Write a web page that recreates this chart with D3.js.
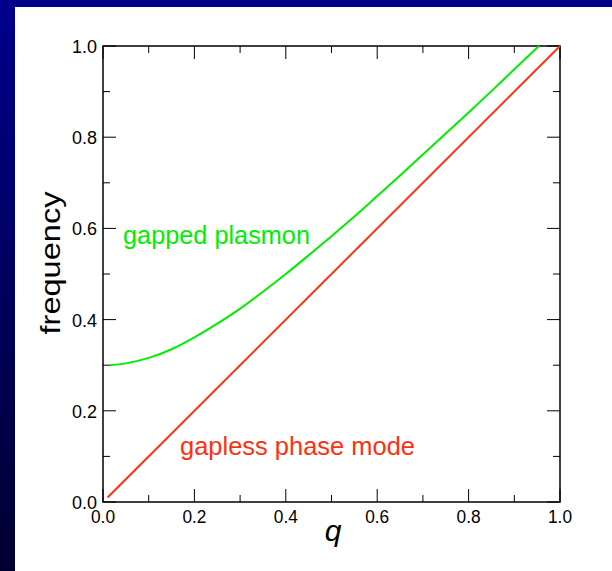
<!DOCTYPE html>
<html><head><meta charset="utf-8">
<script src="https://cdn.jsdelivr.net/npm/d3@7"></script>
<style>html,body{margin:0;padding:0;overflow:hidden;}</style>
</head><body>
<script>
// Data
const qGapped = [0.015,0.05,0.1,0.15,0.2,0.25,0.3,0.35,0.4,0.45,0.5,0.55,0.6,0.65,0.7,0.75,0.8,0.85,0.9,0.954];
const fGapped = [0.300,0.304,0.316,0.335,0.361,0.391,0.424,0.461,0.500,0.541,0.583,0.626,0.671,0.716,0.762,0.808,0.854,0.901,0.949,1.000];
const qGapless = [0.01,1.0];
const fGapless = [0.01,1.0];
const xTicks = [0,0.2,0.4,0.6,0.8,1.0];
const yTicks = [0,0.2,0.4,0.6,0.8,1.0];
const minorTicks = [0.1,0.3,0.5,0.7,0.9];
const labels = ["gapped plasmon","gapless phase mode"];

const W=612,H=571;
const svg=d3.select("body").append("svg").attr("width",W).attr("height",H);
const defs=svg.append("defs");
const g=defs.append("linearGradient").attr("id","bg").attr("x1",0).attr("y1",0).attr("x2",0).attr("y2",1);
g.append("stop").attr("offset","0%").attr("stop-color","#00008c");
g.append("stop").attr("offset","100%").attr("stop-color","#000030");
svg.append("rect").attr("width",W).attr("height",H).attr("fill","url(#bg)");
svg.append("rect").attr("x",15).attr("y",7).attr("width",W-15).attr("height",H-7).attr("fill","#fff");

const L=103,R=560,T=46,B=502;
const x=d3.scaleLinear().domain([0,1]).range([L,R]);
const y=d3.scaleLinear().domain([0,1]).range([B,T]);

const font="'Liberation Sans', Arial, sans-serif";
const ax=svg.append("g").attr("stroke","#000").attr("stroke-width",1);
xTicks.forEach(v=>{
  ax.append("line").attr("x1",x(v)).attr("x2",x(v)).attr("y1",B).attr("y2",B-13);
  ax.append("line").attr("x1",x(v)).attr("x2",x(v)).attr("y1",T).attr("y2",T+13);
});
minorTicks.forEach(v=>{
  ax.append("line").attr("x1",x(v)).attr("x2",x(v)).attr("y1",B).attr("y2",B-7);
  ax.append("line").attr("x1",x(v)).attr("x2",x(v)).attr("y1",T).attr("y2",T+7);
  ax.append("line").attr("y1",y(v)).attr("y2",y(v)).attr("x1",L).attr("x2",L+7);
  ax.append("line").attr("y1",y(v)).attr("y2",y(v)).attr("x1",R).attr("x2",R-7);
});
yTicks.forEach(v=>{
  ax.append("line").attr("y1",y(v)).attr("y2",y(v)).attr("x1",L).attr("x2",L+13);
  ax.append("line").attr("y1",y(v)).attr("y2",y(v)).attr("x1",R).attr("x2",R-13);
});

const line=d3.line().x(d=>x(d[0])).y(d=>y(d[1])).curve(d3.curveMonotoneX);
svg.append("path").datum(qGapless.map((q,i)=>[q,fGapless[i]])).attr("d",line)
  .attr("fill","none").attr("stroke","#ff3010").attr("stroke-width",2);
svg.append("path").datum(qGapped.map((q,i)=>[q,fGapped[i]])).attr("d",line)
  .attr("fill","none").attr("stroke","#00ee00").attr("stroke-width",2);

ax.append("rect").attr("x",L).attr("y",T).attr("width",R-L).attr("height",B-T).attr("fill","none").attr("stroke-width",1.5);

svg.append("g").selectAll("text").data(xTicks).join("text")
  .attr("x",d=>x(d)-12).attr("y",B+21)
  .attr("font-family",font).attr("font-size","18px")
  .attr("textLength",24).attr("lengthAdjust","spacingAndGlyphs").text(d=>d.toFixed(1));
svg.append("g").selectAll("text").data(yTicks).join("text")
  .attr("x",L-31).attr("y",d=>y(d)+7)
  .attr("font-family",font).attr("font-size","18px")
  .attr("textLength",25).attr("lengthAdjust","spacingAndGlyphs").text(d=>d.toFixed(1));

svg.append("text").attr("x",333).attr("y",541).attr("text-anchor","middle")
  .attr("font-family",font).attr("font-style","italic").attr("font-size","30px").text("q");
svg.append("text").attr("transform","translate(60,263) rotate(-90)").attr("text-anchor","middle")
  .attr("font-family",font).attr("font-size","28px")
  .attr("textLength",143).attr("lengthAdjust","spacingAndGlyphs").text("frequency");

svg.append("text").attr("x",123).attr("y",244).attr("font-family",font).attr("font-size","25px")
  .attr("textLength",187).attr("lengthAdjust","spacingAndGlyphs")
  .attr("fill","#00ee00").text(labels[0]);
svg.append("text").attr("x",180).attr("y",455).attr("font-family",font).attr("font-size","25px")
  .attr("textLength",235).attr("lengthAdjust","spacingAndGlyphs")
  .attr("fill","#ff3010").text(labels[1]);
</script>
</body></html>
